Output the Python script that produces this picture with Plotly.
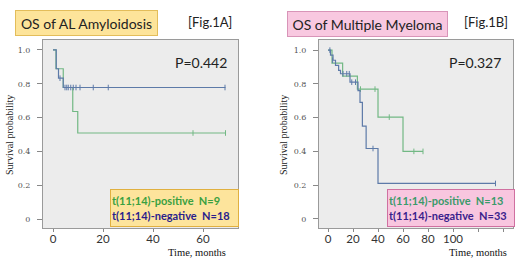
import plotly.graph_objects as go

W, H = 520, 260

# ---------------- data ----------------
# Fig.1A  AL amyloidosis
al_pos_t = [0, 1.2, 4.1, 7.9, 9.9, 69]
al_pos_s = [1.0, 0.889, 0.778, 0.636, 0.509, 0.509]
al_pos_cens_t = [56, 69]
al_pos_cens_s = [0.509, 0.509]

al_neg_t = [0, 1.3, 2.2, 4.1, 69]
al_neg_s = [1.0, 0.889, 0.833, 0.778, 0.778]
al_neg_cens_t = [2.8, 4.8, 5.5, 6.1, 7.1, 8.1, 9.2, 10.8, 16.1, 22.1, 68.8]
al_neg_cens_s = [0.833, 0.778, 0.778, 0.778, 0.778, 0.778, 0.778, 0.778, 0.778, 0.778, 0.778]

# Fig.1B  multiple myeloma
mm_pos_t = [0, 3.2, 11.7, 23.5, 40, 60, 76]
mm_pos_s = [1.0, 0.923, 0.846, 0.769, 0.603, 0.40, 0.40]
mm_pos_cens_t = [26, 37.6, 49, 68.7, 76]
mm_pos_cens_s = [0.769, 0.769, 0.603, 0.40, 0.40]

mm_neg_t = [0, 2, 4, 6, 8.5, 10, 17.6, 24, 25.6, 27.5, 30.5, 40, 134]
mm_neg_s = [1.0, 0.97, 0.94, 0.91, 0.88, 0.86, 0.81, 0.76, 0.69, 0.55, 0.417, 0.21, 0.21]
mm_neg_cens_t = [1.5, 3.7, 12, 15, 17, 19, 22, 36, 134]
mm_neg_cens_s = [1.0, 0.94, 0.86, 0.86, 0.86, 0.81, 0.81, 0.417, 0.21]

y_ticks = [0, 0.2, 0.4, 0.6, 0.8, 1.0]
y_tick_text = ["0", "0.2", "0.4", "0.6", "0.8", "1.0"]
al_x_ticks = [0, 20, 40, 60]
mm_x_ticks = [0, 20, 40, 60, 80, 100, 120, 140]
mm_x_tick_text = ["0", "20", "40", "60", "80", "100", "", ""]

GREEN = "#72b884"
BLUE = "#5d7aa8"

fig = go.Figure()

def add_curve(t, s, ct, cs, color, xa, ya):
    fig.add_trace(go.Scatter(x=t, y=s, mode="lines", line=dict(color=color, width=1.2, shape="hv"),
                             xaxis=xa, yaxis=ya, showlegend=False, hoverinfo="skip"))
    fig.add_trace(go.Scatter(x=ct, y=cs, mode="markers",
                             marker=dict(symbol="line-ns", size=4, line=dict(color=color, width=1)),
                             xaxis=xa, yaxis=ya, showlegend=False, hoverinfo="skip"))

add_curve(al_pos_t, al_pos_s, al_pos_cens_t, al_pos_cens_s, GREEN, "x", "y")
add_curve(al_neg_t, al_neg_s, al_neg_cens_t, al_neg_cens_s, BLUE, "x", "y")
add_curve(mm_pos_t, mm_pos_s, mm_pos_cens_t, mm_pos_cens_s, GREEN, "x2", "y2")
add_curve(mm_neg_t, mm_neg_s, mm_neg_cens_t, mm_neg_cens_s, BLUE, "x2", "y2")

def px(x):
    return x / W

def py(y):
    return 1 - y / H

ydom = [py(228), py(40)]
common_x = dict(showgrid=False, zeroline=False, showline=True, linecolor="#9a9a9a", mirror=True,
                ticks="outside", ticklen=3, tickcolor="#888", ticklabelstandoff=-3,
                tickfont=dict(family="Lato, Open Sans, sans-serif", size=11.5, color="#333"))
common_y = dict(showgrid=False, zeroline=False, showline=True, linecolor="#9a9a9a", mirror=True,
                ticks="outside", ticklen=5, tickcolor="#888", tickvals=y_ticks, ticktext=y_tick_text,
                ticklabelstandoff=5,
                tickfont=dict(family="DejaVu Serif, serif", size=8, color="#555"))

fig.update_layout(
    width=W, height=H, margin=dict(l=0, r=0, t=0, b=0),
    paper_bgcolor="white", plot_bgcolor="#ececec",
    xaxis=dict(domain=[px(43), px(238)], range=[-4, 74], tickvals=al_x_ticks, anchor="y", **common_x),
    yaxis=dict(domain=ydom, range=[-0.053, 1.059], anchor="x", **common_y),
    xaxis2=dict(domain=[px(319), px(513)], range=[-7.2, 148], tickvals=mm_x_ticks,
                ticktext=mm_x_tick_text, anchor="y2", **common_x),
    yaxis2=dict(domain=ydom, range=[-0.054, 1.06], anchor="x2", **common_y),
)

ann = []
# title boxes
ann.append(dict(x=px(15), y=py(10), xref="paper", yref="paper", xanchor="left", yanchor="top",
                text="OS of AL Amyloidosis", showarrow=False, width=139, height=22,
                font=dict(family="Lato, sans-serif", size=14, color="#222"),
                bgcolor="#fde49a", bordercolor="#e3bd5a", borderwidth=1, borderpad=1))
ann.append(dict(x=px(210), y=py(22), xref="paper", yref="paper", xanchor="center", yanchor="middle",
                text="[Fig.1A]", showarrow=False, font=dict(family="Lato, sans-serif", size=13, color="#222")))
ann.append(dict(x=px(287), y=py(11), xref="paper", yref="paper", xanchor="left", yanchor="top",
                text="OS of Multiple Myeloma", showarrow=False, width=157, height=22,
                font=dict(family="Lato, sans-serif", size=14, color="#222"),
                bgcolor="#f8c8e0", bordercolor="#d894b8", borderwidth=1, borderpad=1))
ann.append(dict(x=px(486), y=py(22), xref="paper", yref="paper", xanchor="center", yanchor="middle",
                text="[Fig.1B]", showarrow=False, font=dict(family="Lato, sans-serif", size=13, color="#222")))
# p-values
ann.append(dict(x=px(201), y=py(62), xref="paper", yref="paper", xanchor="center", yanchor="middle",
                text="P=0.442", showarrow=False, font=dict(family="Lato, sans-serif", size=14, color="#222")))
ann.append(dict(x=px(475), y=py(62), xref="paper", yref="paper", xanchor="center", yanchor="middle",
                text="P=0.327", showarrow=False, font=dict(family="Lato, sans-serif", size=14, color="#222")))
# legend boxes
leg_l = ("<span style='color:#3aa040'>t(11;14)-positive  N=9</span><br>"
         "<span style='color:#2a1e8c'>t(11;14)-negative  N=18</span>")
leg_r = ("<span style='color:#3a9a6a'>t(11;14)-positive  N=13</span><br>"
         "<span style='color:#3a1e8c'>t(11;14)-negative  N=33</span>")
ann.append(dict(x=px(110), y=py(189), xref="paper", yref="paper", xanchor="left", yanchor="top",
                text="<b>" + leg_l + "</b>", showarrow=False, align="left", width=125, height=34,
                font=dict(family="Lato, sans-serif", size=11),
                bgcolor="#fde49c", bordercolor="#e0b040", borderwidth=1, borderpad=1))
ann.append(dict(x=px(387), y=py(189), xref="paper", yref="paper", xanchor="left", yanchor="top",
                text="<b>" + leg_r + "</b>", showarrow=False, align="left", width=124, height=34,
                font=dict(family="Lato, sans-serif", size=11),
                bgcolor="#f8c6df", bordercolor="#d070a0", borderwidth=1, borderpad=1))
# axis titles
for xc in (197, 478):
    ann.append(dict(x=px(xc), y=py(260), xref="paper", yref="paper", xanchor="center", yanchor="bottom",
                    text="Time, months", showarrow=False,
                    font=dict(family="Liberation Serif, serif", size=10.5, color="#111")))
for xc in (9, 283):
    ann.append(dict(x=px(xc), y=py(135), xref="paper", yref="paper", xanchor="center", yanchor="middle",
                    text="Survival probability", showarrow=False, textangle=-90,
                    font=dict(family="Liberation Serif, serif", size=10, color="#222")))
fig.update_layout(annotations=ann)

fig.write_html("out.html", config={"displayModeBar": False},
               post_script="document.body.style.margin='0';document.body.style.overflow='hidden';")
